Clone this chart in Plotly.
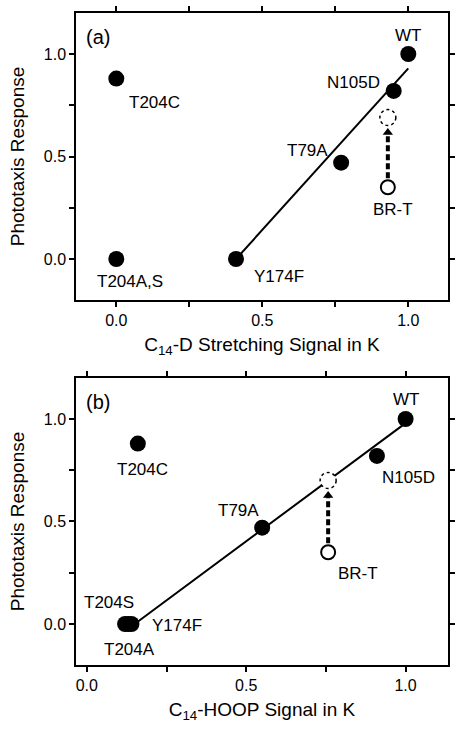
import plotly.graph_objects as go

# ---------------- data ----------------
# Panel (a): C14-D stretching signal in K
labels_a = ["WT", "N105D", "T79A", "Y174F", "T204C", "T204A,S"]
x_a = [1.0, 0.95, 0.77, 0.41, 0.0, 0.0]
y_a = [1.0, 0.82, 0.47, 0.0, 0.88, 0.0]
fit_x_a = [0.41, 1.0]
fit_y_a = [0.0, 0.93]
brt_x_a = 0.93
brt_y_a = 0.35
brt_proj_y_a = 0.69

# Panel (b): C14-HOOP signal in K
labels_b = ["WT", "N105D", "T79A", "Y174F", "T204C", "T204A", "T204S"]
x_b = [1.0, 0.91, 0.55, 0.14, 0.16, 0.13, 0.12]
y_b = [1.0, 0.82, 0.47, 0.0, 0.88, 0.0, 0.0]
fit_x_b = [0.15, 1.0]
fit_y_b = [0.0, 0.98]
brt_x_b = 0.757
brt_y_b = 0.35
brt_proj_y_b = 0.70

brt_label = "BR-T"
tick_vals = [0.0, 0.5, 1.0]
tick_text = ["0.0", "0.5", "1.0"]

# ---------------- styles (pixel offsets for labels) ----------------
FONT = "Liberation Sans, Arial, Helvetica, sans-serif"
offs_a = {"WT": (0, 19), "N105D": (-40, 8), "T79A": (-34, 12), "Y174F": (43, -17),
          "T204C": (38, -24), "T204A,S": (14, -22), "BR-T": (5, -22)}
offs_b = {"WT": (0, 19), "N105D": (32, -22), "T79A": (-24, 17), "Y174F": (46, -2),
          "T204C": (5, -26), "T204A": (1, -26), "T204S": (-16, 21), "BR-T": (30, -21)}

fig = go.Figure()
annotations = []
shapes = []


def add_panel(xs, ys, labels, fx, fy, bx, by, bpy, xref, yref, offs, tag):
    # fit line
    fig.add_trace(go.Scatter(x=fx, y=fy, mode="lines", line=dict(color="black", width=2),
                             xaxis=xref, yaxis=yref, showlegend=False, hoverinfo="skip"))
    # dashed arrow from BR-T to projected point
    fig.add_trace(go.Scatter(x=[bx, bx], y=[by, bpy], mode="lines+markers",
                             line=dict(color="black", width=4, dash="6px,3px", backoff=15),
                             marker=dict(symbol=["circle", "triangle-up"], size=[0, 9],
                                         color="black", angleref="previous", standoff=[0, 15],
                                         line=dict(width=0), opacity=1),
                             xaxis=xref, yaxis=yref, showlegend=False, hoverinfo="skip"))
    # filled markers
    fig.add_trace(go.Scatter(x=xs, y=ys, mode="markers",
                             marker=dict(symbol="circle", size=16, color="black"),
                             xaxis=xref, yaxis=yref, showlegend=False))
    # open marker for BR-T
    fig.add_trace(go.Scatter(x=[bx], y=[by], mode="markers",
                             marker=dict(symbol="circle", size=14, color="white",
                                         line=dict(color="black", width=2)),
                             xaxis=xref, yaxis=yref, showlegend=False))
    # dashed circle at projected position
    shapes.append(dict(type="circle", xref=xref, yref=yref, xsizemode="pixel", ysizemode="pixel",
                       xanchor=bx, yanchor=bpy, x0=-8, x1=8, y0=-8, y1=8,
                       line=dict(color="black", width=1.5, dash="dot"), fillcolor="white",
                       layer="above"))
    for lx, ly, lt in list(zip(xs, ys, labels)) + [(bx, by, brt_label)]:
        dx, dy = offs[lt]
        annotations.append(dict(x=lx, y=ly, xref=xref, yref=yref, text=lt, showarrow=False,
                                xanchor="center", yanchor="middle",
                                xshift=dx, yshift=dy, font=dict(size=17, color="black", family=FONT)))
    annotations.append(dict(x=0.059, y=0.917, xref=f"{xref} domain", yref=f"{yref} domain",
                            xanchor="center", yanchor="middle",
                            text=tag, showarrow=False, font=dict(size=20, color="black", family=FONT)))


add_panel(x_a, y_a, labels_a, fit_x_a, fit_y_a, brt_x_a, brt_y_a, brt_proj_y_a, "x", "y", offs_a, "(a)")
add_panel(x_b, y_b, labels_b, fit_x_b, fit_y_b, brt_x_b, brt_y_b, brt_proj_y_b, "x2", "y2", offs_b, "(b)")

axis_common = dict(showline=True, linecolor="black", linewidth=1.5, mirror="ticks",
                   ticks="outside", ticklen=5, tickwidth=1.5, tickcolor="black",
                   tickvals=tick_vals, ticktext=tick_text, showgrid=False, zeroline=False,
                   automargin=False,
                   tickfont=dict(size=16, color="black", family=FONT),
                   minor=dict(ticks="outside", ticklen=5, tickwidth=1.5, tickcolor="black",
                              dtick=0.25, showgrid=False))
title_font = dict(size=19, color="black", family=FONT)

fig.update_layout(
    template="none",
    width=462, height=730,
    margin=dict(l=76, r=14, t=13, b=65, autoexpand=False),
    paper_bgcolor="white", plot_bgcolor="white",
    showlegend=False,
    xaxis=dict(domain=[0, 1], range=[-0.138, 1.136], anchor="y",
               title=dict(text="C<sub>14</sub>-D Stretching Signal in K", font=title_font, standoff=10),
               **axis_common),
    yaxis=dict(domain=[0.5598, 1], range=[-0.2, 1.2], anchor="x",
               title=dict(text="Phototaxis Response", font=title_font, standoff=14),
               **axis_common),
    xaxis2=dict(domain=[0, 1], range=[-0.034, 1.133], anchor="y2",
                title=dict(text="C<sub>14</sub>-HOOP Signal in K", font=title_font, standoff=10),
                **axis_common),
    yaxis2=dict(domain=[0, 0.4402], range=[-0.2, 1.2], anchor="x2",
                title=dict(text="Phototaxis Response", font=title_font, standoff=14),
                **axis_common),
    annotations=annotations,
    shapes=shapes,
)

fig.write_html("out.html", config={"displayModeBar": False},
               post_script="document.body.style.margin='0px';")
